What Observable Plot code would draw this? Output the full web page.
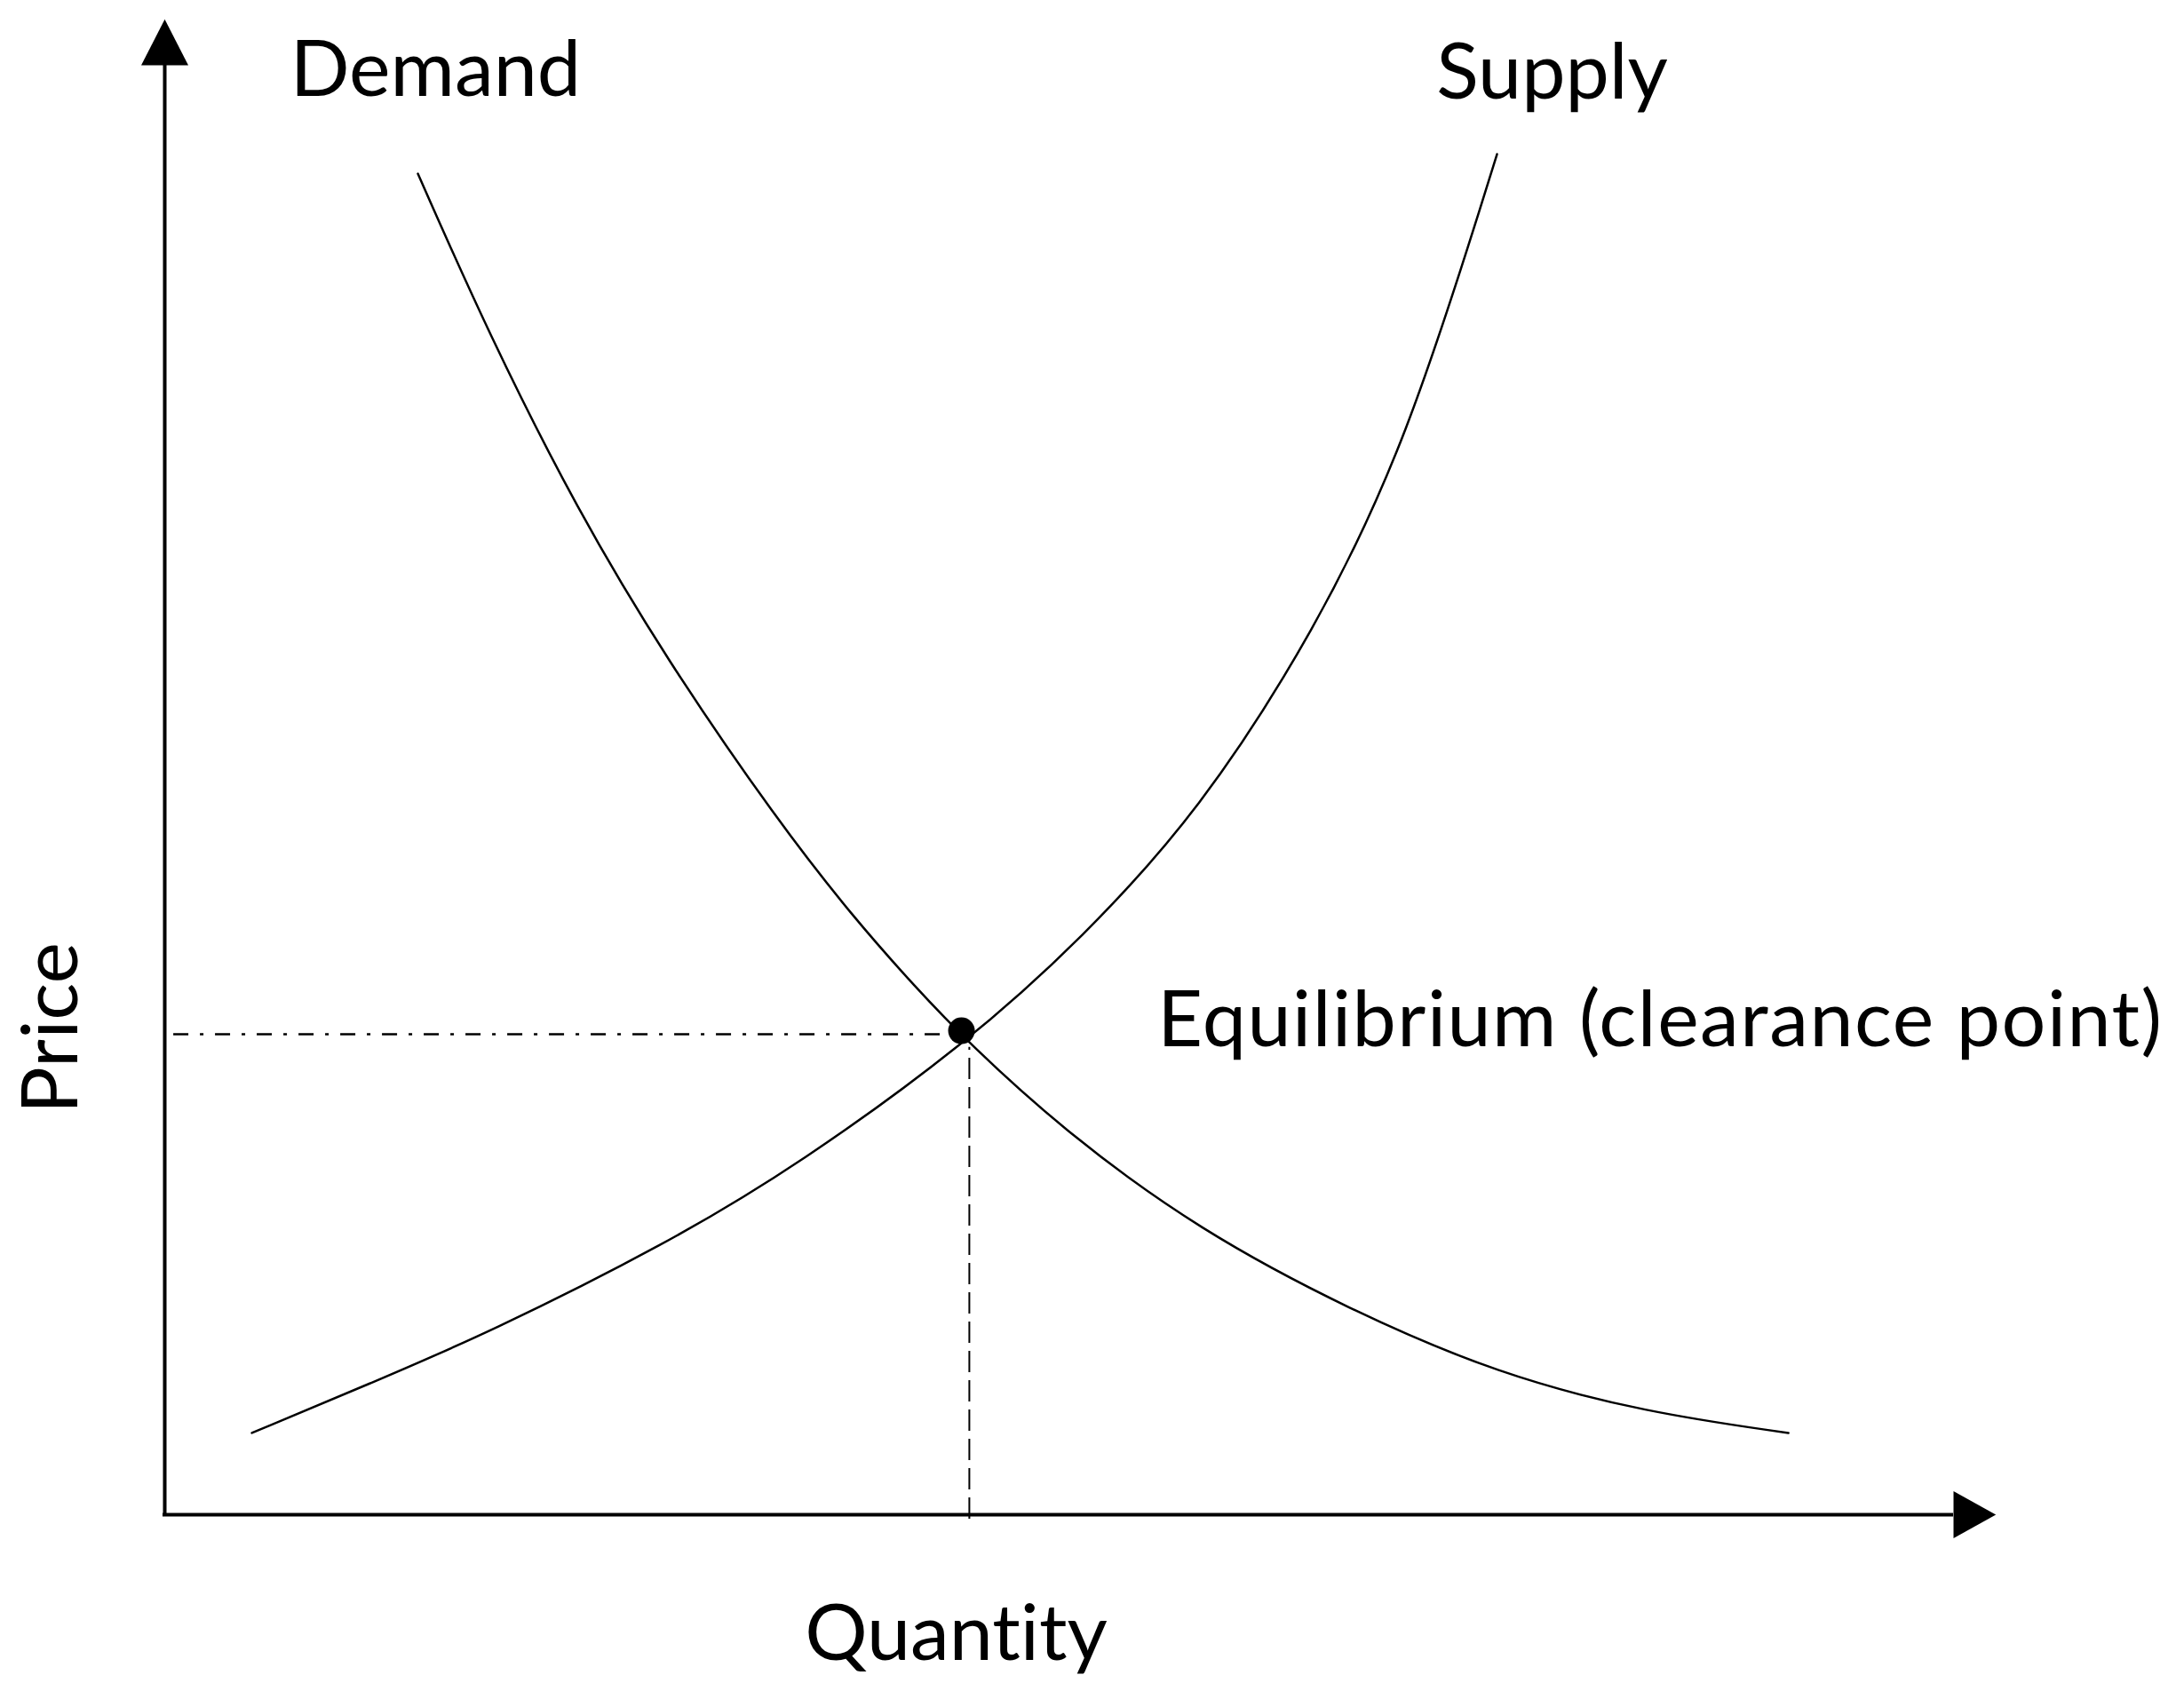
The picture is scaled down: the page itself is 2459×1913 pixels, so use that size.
<!DOCTYPE html>
<html>
<head>
<meta charset="utf-8">
<script src="https://cdn.jsdelivr.net/npm/d3@7"></script>
<script src="https://cdn.jsdelivr.net/npm/@observablehq/plot@0.6"></script>
<style>
  html, body { margin: 0; padding: 0; background: #fff; overflow: hidden; }
  #chart svg { display: block; }
  #chart text { font-variant-ligatures: none; font-feature-settings: "liga" 0, "clig" 0; }
</style>
</head>
<body>
<div id="chart"></div>
<script>
// Demand curve (quantity, price) in chart units (0–100 on both axes)
const demandQ = [14.15, 18.12, 23.09, 28.05, 34.26, 38.48, 41.96, 44.89, 50.40, 57.85, 66.29, 74.58, 82.82, 90.77];
const demandP = [92.52, 81.43, 69.24, 59.01, 47.86, 41.24, 36.40, 32.60, 26.35, 19.61, 14.09, 9.68, 7.05, 5.64];

// Supply curve
const supplyQ = [4.87, 11.52, 18.12, 28.05, 35.50, 44.89, 51.24, 57.85, 64.30, 69.41, 74.48];
const supplyP = [5.64, 9.07, 12.56, 18.69, 24.20, 32.60, 39.71, 48.53, 60.97, 73.84, 93.87];

// Equilibrium point and guide lines
const equilibriumQ = 44.54;
const equilibriumP = 33.39;
const guideQ = 44.98;
const guideP = 33.15;

// Labels
const labelText = ["Demand", "Supply", "Equilibrium (clearance point)", "Quantity", "Price"];
const labelQ = [15.14, 77.56, 55.5, 44.24, -6.3];
const labelP = [99.63, 99.45, 34.07, -8.27, 33.58];
const labelAnchor = ["middle", "middle", "start", "middle", "middle"];
const labelRotate = [0, 0, 0, 0, -90];

const demand = demandQ.map((q, i) => ({q, p: demandP[i]}));
const supply = supplyQ.map((q, i) => ({q, p: supplyP[i]}));
const labels = labelText.map((t, i) => ({t, q: labelQ[i], p: labelP[i], anchor: labelAnchor[i], rotate: labelRotate[i]}));

const arrowUp = {draw(ctx, size) {
  const r = Math.sqrt(size / Math.PI);
  ctx.moveTo(-r, 0); ctx.lineTo(0, -1.95 * r); ctx.lineTo(r, 0); ctx.closePath();
}};
const arrowRight = {draw(ctx, size) {
  const r = Math.sqrt(size / Math.PI);
  ctx.moveTo(0, -r); ctx.lineTo(1.8 * r, 0); ctx.lineTo(0, r); ctx.closePath();
}};

const font = "Lato, 'Open Sans', sans-serif";

const chart = Plot.plot({
  width: 2459,
  height: 1913,
  margin: 0,
  style: {background: "#fff", fontFamily: font},
  x: {domain: [0, 100], range: [185, 2199], axis: null},
  y: {domain: [0, 100], range: [1705, 73], axis: null},
  marks: [
    // axes
    Plot.ruleX([0], {y1: -0.12, y2: 100, stroke: "#000", strokeWidth: 4}),
    Plot.ruleY([0], {x1: -0.1, x2: 100, stroke: "#000", strokeWidth: 4}),
    Plot.dot([{q: 0, p: 100}], {x: "q", y: "p", r: 26.5, symbol: arrowUp, fill: "#000", stroke: null}),
    Plot.dot([{q: 100, p: 0}], {x: "q", y: "p", r: 26.5, symbol: arrowRight, fill: "#000", stroke: null}),
    // guides
    Plot.ruleY([guideP], {x1: 0.5, x2: equilibriumQ - 1.1, stroke: "#000", strokeWidth: 2.5, strokeDasharray: "17,13,4,13"}),
    Plot.ruleX([guideQ], {y1: -0.3, y2: guideP - 0.9, stroke: "#000", strokeWidth: 2, strokeDasharray: "24,9"}),
    // curves
    Plot.line(demand, {x: "q", y: "p", curve: "basis", stroke: "#000", strokeWidth: 2.5}),
    Plot.line(supply, {x: "q", y: "p", curve: "basis", stroke: "#000", strokeWidth: 2.5}),
    // equilibrium
    Plot.dot([{q: equilibriumQ, p: equilibriumP}], {x: "q", y: "p", r: 15, fill: "#000", stroke: null}),
    // labels
    Plot.text(labels.filter(d => d.anchor === "middle"), {x: "q", y: "p", text: "t", rotate: "rotate", textAnchor: "middle", fontSize: 88, fill: "#000", fontFamily: font}),
    Plot.text(labels.filter(d => d.anchor === "start"), {x: "q", y: "p", text: "t", rotate: "rotate", textAnchor: "start", fontSize: 88, fill: "#000", fontFamily: font})
  ]
});
chart.querySelectorAll("text").forEach(el => {
  if (el.textContent.startsWith("Equilibrium")) el.setAttribute("letter-spacing", "1.5");
});
document.getElementById("chart").appendChild(chart);
</script>
</body>
</html>
